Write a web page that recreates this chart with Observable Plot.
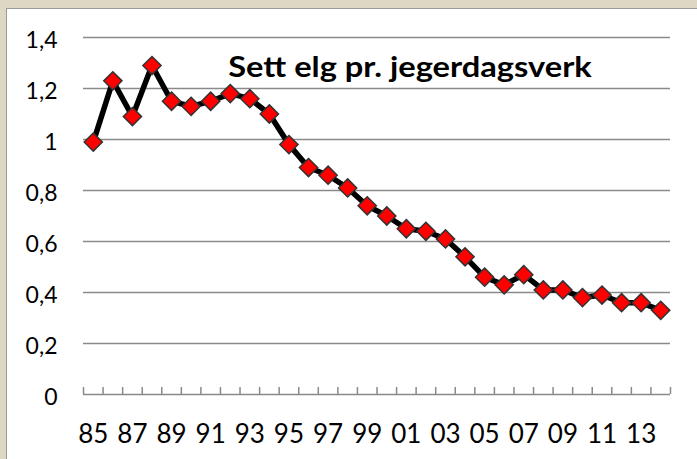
<!DOCTYPE html>
<html>
<head>
<meta charset="utf-8">
<script src="https://cdn.jsdelivr.net/npm/d3@7"></script>
<script src="https://cdn.jsdelivr.net/npm/@observablehq/plot@0.6"></script>
<style>
  html, body { margin: 0; padding: 0; }
  body { width: 697px; height: 459px; background: #ddd8c3; position: relative; overflow: hidden; font-family: Lato, sans-serif; }
  #panel { position: absolute; left: 6px; top: 8px; width: 700px; height: 460px; background: #ffffff; border-left: 1px solid #9a9a9a; border-top: 1px solid #9a9a9a; }
  #chart { position: absolute; left: 0; top: 0; }
  #title { position: absolute; left: 410px; top: 52px; transform: translateX(-50%) scaleX(1.165); font: bold 28px Lato, sans-serif; line-height: 28px; white-space: nowrap; color: #000; }
</style>
</head>
<body>
<div id="panel"></div>
<div id="chart"></div>
<div id="title">Sett elg pr. jegerdagsverk</div>
<script>
const years = [1985, 1986, 1987, 1988, 1989, 1990, 1991, 1992, 1993, 1994,
               1995, 1996, 1997, 1998, 1999, 2000, 2001, 2002, 2003, 2004,
               2005, 2006, 2007, 2008, 2009, 2010, 2011, 2012, 2013, 2014];
const seen = [0.99, 1.23, 1.09, 1.29, 1.15, 1.13, 1.15, 1.18, 1.16, 1.10,
              0.98, 0.89, 0.86, 0.81, 0.74, 0.70, 0.65, 0.64, 0.61, 0.54,
              0.46, 0.43, 0.47, 0.41, 0.41, 0.38, 0.39, 0.36, 0.36, 0.33];
const yTicks = [0, 0.2, 0.4, 0.6, 0.8, 1.0, 1.2, 1.4];
const xLabelYears = [1985, 1987, 1989, 1991, 1993, 1995, 1997, 1999, 2001, 2003, 2005, 2007, 2009, 2011, 2013];

const data = years.map((year, i) => ({year, value: seen[i]}));
const boundaries = years.map(y => y - 0.5).concat([years[years.length - 1] + 0.5]);

const chart = Plot.plot({
  width: 697,
  height: 459,
  marginLeft: 83,
  marginRight: 27,
  marginTop: 37,
  marginBottom: 65,
  style: {background: "transparent", fontFamily: "Lato, sans-serif", color: "#000"},
  x: {type: "linear", domain: [years[0] - 0.5, years[years.length - 1] + 0.5]},
  y: {domain: [0, 1.4]},
  marks: [
    Plot.ruleY(yTicks, {stroke: "#8a8a8a", strokeWidth: 1.5, strokeOpacity: 1}),
    Plot.axisX(boundaries, {tickSize: -7, tickFormat: () => "", label: null, stroke: "#8a8a8a", strokeWidth: 1.5, strokeOpacity: 1}),
    Plot.axisX(xLabelYears, {tickSize: 0, tickPadding: 30, tickFormat: d => String(d).slice(2), fontSize: 26, label: null, fill: "#000"}),
    Plot.axisY(yTicks, {tickSize: 0, tickPadding: 26, tickFormat: d => String(d).replace(".", ","), fontSize: 23, dy: 3, label: null, fill: "#000"}),
    Plot.line(data, {x: "year", y: "value", stroke: "#000", strokeWidth: 5.5, strokeLinejoin: "miter"}),
    Plot.dot(data, {x: "year", y: "value", symbol: "diamond2", r: 8.2, fill: "#ff0000", stroke: "#333", strokeWidth: 1.5})
  ]
});
document.getElementById("chart").appendChild(chart);
</script>
</body>
</html>
